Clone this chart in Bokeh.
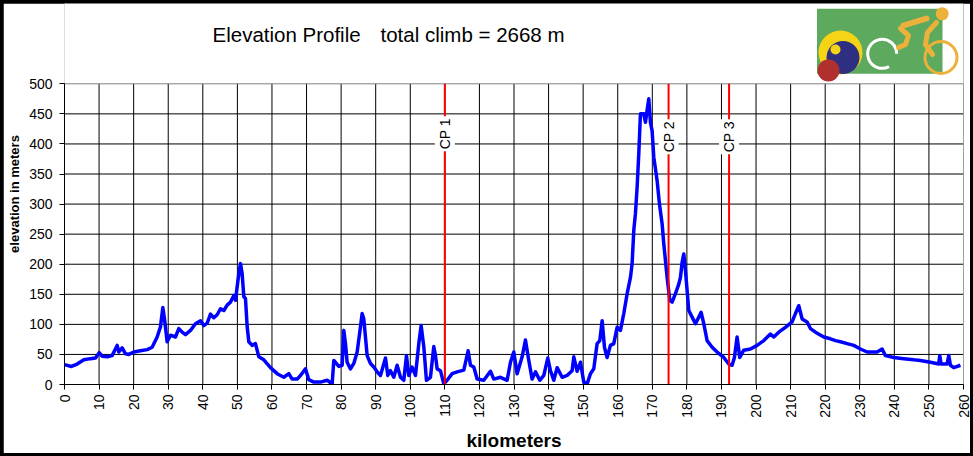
import math
from bokeh.plotting import figure
from bokeh.models import Range1d, FixedTicker, Label
from bokeh.embed import file_html
from bokeh.resources import INLINE
from bokeh.core.templates import get_env

# ---------------- data ----------------
km = [0.0, 2.02, 3.66, 5.59, 7.52, 8.96, 10.03, 10.89, 12.34, 13.78, 15.23, 15.71, 16.68, 17.64, 18.6,
      20.05, 21.98, 23.91, 25.35, 26.8, 27.76, 28.44, 28.92, 29.69, 30.65, 32.1, 33.06, 34.03, 34.99,
      36.44, 37.88, 39.33, 40.29, 41.26, 42.22, 43.18, 44.15, 45.11, 46.08, 47.04, 48.0, 48.97, 49.45,
      49.93, 50.41, 50.9, 51.38, 51.86, 52.34, 52.83, 53.31, 54.27, 55.23, 56.2, 57.64, 59.57, 61.5,
      63.43, 64.87, 65.84, 67.28, 68.25, 69.69, 70.66, 72.1, 74.03, 75.96, 77.41,
      77.89, 79.33, 80.3, 80.78, 81.26, 81.74, 82.71, 83.67, 84.64, 85.6, 86.08, 86.56, 87.04, 87.53,
      88.49, 89.45, 90.42, 91.38, 92.83, 93.5, 94.27, 95.24, 96.2, 97.17, 98.13, 98.9, 99.58, 100.54,
      101.5, 102.47, 103.14, 103.91, 104.68, 105.84, 106.8, 107.29, 107.77, 108.73, 109.7, 110.66,
      112.11, 113.55, 115.48, 116.73, 117.41, 118.37, 119.34, 121.26, 123.19, 124.16, 126.09, 128.01,
      128.98, 129.94, 130.9, 132.35, 133.31, 134.28, 135.24, 136.21, 137.46, 138.62, 139.77, 140.54,
      141.51, 142.47, 143.92, 145.36, 146.81, 147.29, 148.26, 149.22, 150.18, 151.15, 152.11, 153.07,
      154.04, 154.81, 155.49, 156.16, 156.93, 157.89, 158.86, 159.82, 160.79, 161.75, 162.72, 163.68,
      164.16, 164.64, 165.12, 165.61, 166.09, 166.57, 167.53, 168.02, 168.5, 168.98, 169.46, 169.94,
      170.43, 171.39, 172.07, 172.84, 173.32, 174.28, 175.05, 175.73, 176.69, 177.66, 178.14, 178.62,
      179.1, 179.58, 180.55, 181.51, 182.48, 183.44, 184.12, 184.89, 185.85, 187.3, 188.74, 190.67,
      192.11, 193.08, 193.75, 194.52, 195.29, 196.45, 198.38, 200.31, 202.24, 204.16, 205.13, 206.57,
      208.5, 210.43, 211.39, 212.36, 213.32, 214.77, 215.73, 217.18, 219.59, 221.52, 222.96, 224.41,
      226.34, 228.26, 230.19, 232.12, 235.01, 236.46, 237.42, 239.83, 242.72, 245.61, 247.54, 250.43,
      252.84, 253.13, 253.52, 255.25, 255.74, 256.22, 257.18, 259.11]
elev = [33, 30, 34, 41, 43, 44, 53, 47, 46, 48, 65, 54, 61, 51, 50,
        54, 56, 58, 62, 79, 96, 128, 109, 71, 82, 79, 93, 87, 83,
        90, 101, 106, 98, 102, 117, 111, 116, 126, 123, 132, 137, 148, 140,
        162, 184, 201, 184, 146, 143, 96, 71, 65, 68, 46, 41, 28, 18,
        12, 18, 9, 9, 15, 26, 8, 4, 4, 7, 1,
        40, 30, 32, 90, 68, 37, 26, 35, 54, 96, 118, 109, 79, 48,
        35, 29, 21, 15, 44, 15, 23, 12, 32, 12, 7, 48, 15, 29,
        15, 68, 98, 63, 7, 12, 63, 48, 26, 23, 1, 7,
        18, 21, 24, 56, 32, 29, 9, 7, 22, 9, 12, 7,
        37, 54, 18, 46, 74, 40, 9, 21, 7, 15, 44, 23,
        7, 28, 12, 15, 23, 46, 22, 37, 4, 1, 18, 26,
        68, 73, 106, 62, 45, 65, 68, 95, 90, 118, 151, 178,
        201, 256, 284, 328, 384, 450, 450, 436, 456, 475, 436, 422,
        378, 339, 300, 267, 234, 178, 140, 137, 151, 167, 178, 203,
        217, 190, 123, 112, 101, 112, 120, 101, 73, 62, 54, 45,
        34, 32, 45, 79, 45, 57, 59, 65, 73, 84, 79, 87,
        95, 104, 118, 131, 109, 104, 93, 87, 79, 76, 73, 71,
        68, 65, 59, 54, 54, 59, 48, 45, 43, 41, 40, 37,
        34, 48, 34, 34, 48, 32, 28, 32]

x_ticks = list(range(0, 261, 10))
y_ticks = list(range(0, 501, 50))
cp_names = ["CP 1", "CP 2", "CP 3"]
cp_km = [110, 174.7, 192.2]
cp_label_elev = [417, 412, 412]

title_parts = ["Elevation Profile", "total climb = 2668 m"]
title_part_x = [209, 377]
x_title = "kilometers"
y_title = "elevation in meters"

# logo decoration (canvas pixels)
logo_box = [813.5, 939, 5.3, 70.3]
logo_disc_x = [837, 839.5, 825, 832, 938.7]
logo_disc_y = [49, 54, 67, 46, 10.3]
logo_disc_r = [22, 16.5, 11, 5, 6.5]
logo_disc_c = ["#F5D415", "#2E2F80", "#B0302E", "#F5D415", "#EBB13A"]
ring_xy_r = [878.7, 50.3, 14.5]
wheel_xy_r = [937.5, 54, 16]
arm_x = [900, 923]
arm_y = [22, 15]
comma_x = [897, 905, 902, 895]
comma_y = [25, 32, 41, 44]
torso_x = [933, 924, 922, 929]
torso_y = [19, 29, 41, 51]

FONT = "Liberation Sans"
W, H = 967, 450
LEFT, RIGHT, BOTTOM = 61, 7, 69
FRAME_H = H - BOTTOM              # frame spans the whole height above the x axis
PLOT_TOP_PX = 80.3                # canvas row of the 500 m line
Y_MAX, X_MAX = y_ticks[-1], x_ticks[-1]
y_top = Y_MAX * FRAME_H / (FRAME_H - PLOT_TOP_PX)

p = figure(width=W, height=H, x_range=Range1d(0, X_MAX), y_range=Range1d(0, y_top),
           output_backend="svg", toolbar_location=None,
           min_border_left=LEFT, min_border_right=RIGHT, min_border_top=0, min_border_bottom=BOTTOM)
p.extra_x_ranges = {"px": Range1d(LEFT, W - RIGHT)}
p.extra_y_ranges = {"py": Range1d(FRAME_H, 0)}
p.background_fill_color = "white"
p.border_fill_color = "white"
p.outline_line_color = None
p.xgrid.visible = False
p.ygrid.visible = False

# ---- header: logo + title (canvas pixel coordinates) ----
hx = dict(x_range_name="px", y_range_name="py")
p.quad(left=logo_box[0], right=logo_box[1], top=logo_box[2], bottom=logo_box[3],
       fill_color="#5DAA5E", line_color=None, **hx)
p.circle(x=logo_disc_x[:4], y=logo_disc_y[:4], radius=logo_disc_r[:4],
         fill_color=logo_disc_c[:4], line_color=None, **hx)
p.arc(x=ring_xy_r[0], y=ring_xy_r[1], radius=ring_xy_r[2], start_angle=0.0, end_angle=5.2,
      line_color="white", line_width=3, **hx)
p.circle(x=wheel_xy_r[0], y=wheel_xy_r[1], radius=wheel_xy_r[2], fill_color=None,
         line_color="#EBB13A", line_width=3, **hx)
p.circle(x=logo_disc_x[4:], y=logo_disc_y[4:], radius=logo_disc_r[4:],
         fill_color="#EBB13A", line_color=None, **hx)
p.line(arm_x, arm_y, line_color="#EBB13A", line_width=6, line_cap="round", **hx)
p.line(comma_x, comma_y, line_color="#EBB13A", line_width=5, line_cap="round", line_join="round", **hx)
p.line(torso_x, torso_y, line_color="#EBB13A", line_width=5, line_cap="round", line_join="round", **hx)

for txt, tx in zip(title_parts, title_part_x):
    p.add_layout(Label(x=tx, y=31, x_range_name="px", y_range_name="py", text=txt,
                       text_align="left", text_baseline="middle",
                       text_font=FONT, text_font_size="20.5px", text_color="black"))

# white cover for the frame edge above the plot box
p.segment(x0=[0], y0=[Y_MAX], x1=[0], y1=[y_top], line_color="white", line_width=4)

# ---- grid (limited to the 0..500 m plot box) ----
inner_x = x_ticks[1:-1]
inner_y = y_ticks[1:-1]
p.segment(x0=inner_x, y0=[0] * len(inner_x), x1=inner_x, y1=[Y_MAX] * len(inner_x),
          line_color="black", line_width=1)
p.segment(x0=[0] * len(inner_y), y0=inner_y, x1=[X_MAX] * len(inner_y), y1=inner_y,
          line_color="black", line_width=1)
p.segment(x0=[0, X_MAX], y0=[Y_MAX, 0], x1=[X_MAX, X_MAX], y1=[Y_MAX, Y_MAX],
          line_color="#808080", line_width=1)

# ---- profile ----
p.line(km, elev, line_color="#0000FF", line_width=3.5, line_join="round")

# ---- check points ----
p.segment(x0=cp_km, y0=[0] * len(cp_km), x1=cp_km, y1=[Y_MAX] * len(cp_km),
          line_color="#FF0000", line_width=2)
for name, xk, ye in zip(cp_names, cp_km, cp_label_elev):
    p.add_layout(Label(x=xk, y=ye, text=name, angle=math.pi / 2, text_align="center",
                       text_baseline="middle", text_font=FONT, text_font_size="14px",
                       text_color="black", background_fill_color="white", padding=2))

# ---- axes ----
p.xaxis.ticker = FixedTicker(ticks=x_ticks)
p.yaxis.ticker = FixedTicker(ticks=y_ticks)
p.yaxis.bounds = (0, Y_MAX)
for ax in (p.xaxis, p.yaxis):
    ax.axis_line_color = "black"
    ax.major_tick_line_color = "black"
    ax.major_tick_out = 5
    ax.major_tick_in = 0
    ax.minor_tick_out = 0
    ax.minor_tick_in = 0
    ax.major_label_text_font = FONT
    ax.major_label_text_font_size = "14px"
    ax.major_label_text_color = "black"
    ax.axis_label_text_font = FONT
    ax.axis_label_text_font_style = "bold"
    ax.axis_label_text_color = "black"

p.xaxis.major_label_orientation = math.pi / 2
p.xaxis.major_label_standoff = 5
p.xaxis.axis_label = x_title
p.xaxis.axis_label_text_font_size = "19px"
p.xaxis.axis_label_standoff = 9

p.yaxis.major_label_standoff = 7
p.yaxis.axis_label = y_title
p.yaxis.axis_label_text_font_size = "13px"
p.yaxis.axis_label_standoff = 4

tmpl = get_env().from_string(
    '{% extends "file.html" %}'
    '{% block postamble %}<style>'
    'html{margin:0 !important;padding:0 !important;background:#000 !important;overflow:hidden !important;}'
    'body{margin:0 !important;padding:3px !important;background:#000 !important;overflow:hidden !important;'
    'box-sizing:border-box;}'
    '</style>{% endblock %}'
)

open("out.html", "w").write(file_html(p, INLINE, title="Elevation Profile", template=tmpl))
